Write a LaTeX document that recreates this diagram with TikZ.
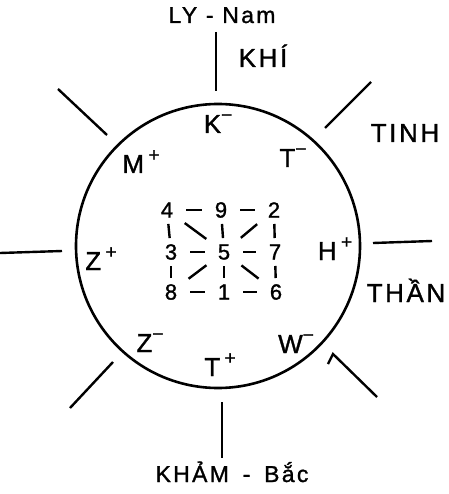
\documentclass[tikz,border=0pt]{standalone}
\usepackage{fontspec}
\setmainfont[FakeBold=1.2]{Liberation Sans}
\newfontfamily\hand[LetterSpace=10,FakeBold=1.2]{Liberation Sans}
\newcommand{\chg}[1]{\raisebox{.45em}{\fontsize{19}{19}\selectfont #1}}

\begin{document}
\begin{tikzpicture}[x=1pt,y=-1pt,
    lab/.style={anchor=base,inner sep=0pt,font=\fontsize{26}{26}\selectfont\hand},
    big/.style={lab,font=\fontsize{23}{23}\selectfont\hand},
    num/.style={inner sep=0pt,font=\fontsize{22}{22}\selectfont},
    link/.style={line width=2.4pt,shorten <=#1,shorten >=#1},
    ray/.style={line width=2.4pt}]
    \useasboundingbox (0,0) rectangle (448,494);

    \draw[line width=2.6pt](218,246) circle (142);

    % the eight rays
    \draw[ray](216,32)--(216,91);
    \draw[ray](222,402)--(222,458);
    \draw[ray](0,253)--(62,251);
    \draw[ray](373,243)--(432,241);
    \draw[ray](58,89)--(107,135);
    \draw[ray](325,128)--(371,82);
    \draw[ray](113,362)--(70,408);
    \draw[ray](328,364)--(333,354)--(377,397);

    % outer names
    \node[big](ly) at (222,23){LY - Nam};
    \node[lab](khi) at (263,67){KHÍ};
    \node[lab](tinh) at (405,142){TINH};
    \node[lab](than) at (406,302){THẦN};
    \node[big](kham) at (232,482){KHẢM\hspace{.6em}-\hspace{.6em}Bắc};

    % signs round the circle
    \node[lab](k) at (218,133){K\chg{−}};
    \node[lab](m) at (141,173){M\,\chg{+}};
    \node[lab](t1) at (293,167){T\chg{−}};
    \node[lab](z1) at (101,270){Z\,\chg{+}};
    \node[lab](h) at (335,260){H\,\chg{+}};
    \node[lab](z2) at (150,352){Z\chg{−}};
    \node[lab](t2) at (220,376){T\,\chg{+}};
    \node[lab](w) at (296,353){W\chg{−}};

    % the square of nine
    \node[num](n4) at (167,210){4};
    \node[num](n9) at (221,210){9};
    \node[num](n2) at (274,210){2};
    \node[num](n3) at (171,252){3};
    \node[num](n5) at (224,252){5};
    \node[num](n7) at (275,252){7};
    \node[num](n8) at (171,292){8};
    \node[num](n1) at (224,292){1};
    \node[num](n6) at (276,292){6};

    \foreach \a/\b in {n4/n9,n9/n2,n3/n5,n5/n7,n8/n1,n1/n6}
        \draw[link=19](\a.center)--(\b.center);
    \foreach \a/\b in {n4/n3,n9/n5,n2/n7,n3/n8,n5/n1,n7/n6}
        \draw[link=14](\a.center)--(\b.center);
    \foreach \a in {n4,n2,n8,n6}
        \draw[link=22](n5.center)--(\a.center);
\end{tikzpicture}
\end{document}
